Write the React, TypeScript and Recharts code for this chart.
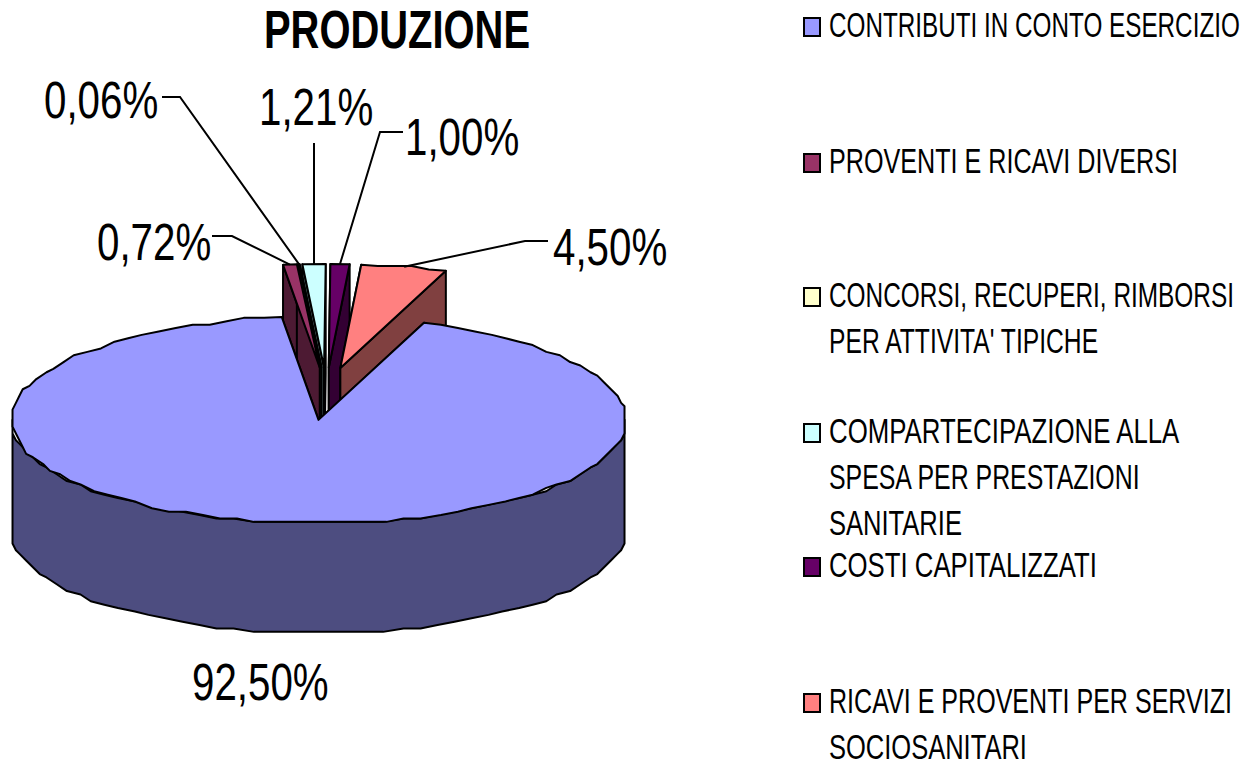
import React from 'react';
import { PieChart, Pie, Legend } from 'recharts';

const TITLE = 'PRODUZIONE';
const categories = [
  'CONTRIBUTI IN CONTO ESERCIZIO',
  'PROVENTI E RICAVI DIVERSI',
  "CONCORSI, RECUPERI, RIMBORSI PER ATTIVITA' TIPICHE",
  'COMPARTECIPAZIONE ALLA SPESA PER PRESTAZIONI SANITARIE',
  'COSTI CAPITALIZZATI',
  'RICAVI E PROVENTI PER SERVIZI SOCIOSANITARI',
];
const values = [92.5, 0.72, 0.06, 1.21, 1.0, 4.5];
const colors = ['#9999FF', '#993366', '#FFFFCC', '#CCFFFF', '#660066', '#FF8080'];
const sideColors = ['#4D4D80', '#4D1A33', '#808066', '#668080', '#330033', '#804040'];

const rows = categories.map((name, i) => ({
  name,
  value: values[i],
  fill: colors[i],
  side: sideColors[i],
  idx: i,
}));

// Painter's order of the slices: the big slice last, it covers the walls of the others.
const paintPasses = [3, 2, 1, 4, 5, 0];

const legendLines = [
  ['CONTRIBUTI IN CONTO ESERCIZIO'],
  ['PROVENTI E RICAVI DIVERSI'],
  ['CONCORSI, RECUPERI, RIMBORSI', "PER ATTIVITA' TIPICHE"],
  ['COMPARTECIPAZIONE ALLA', 'SPESA PER PRESTAZIONI', 'SANITARIE'],
  ['COSTI CAPITALIZZATI'],
  ['RICAVI E PROVENTI PER SERVIZI', 'SOCIOSANITARI'],
];
const legendLineWidths = [
  [411],
  [349],
  [405, 271],
  [352, 312, 133],
  [268],
  [403, 198],
];
const legendBaselines = [37, 173, 307, 443, 577, 713];
const LEGEND_LINE_GAP = 46;

const FONT = '"Liberation Sans", Arial, sans-serif';
const CX = 326.3;
const CY = 393.75;
const RX = 307;
const RY = 103.5;
const DEPTH = 110;
const EXPLODE_X = 0.22;
const EXPLODE_Y = 0.254;
const KY = RY / RX;
const RAD = Math.PI / 180;
const GRID = 3.4;
const ARC_STEP = 3.5;

const labelLayout: Record<number, { x: number; y: number; line?: [number, number][] }> = {
  0: { x: 192, y: 700 },
  1: { x: 97, y: 260, line: [[212, 236], [232, 236]] },
  2: { x: 44, y: 118, line: [[162, 97], [180, 97]] },
  3: { x: 259, y: 125, line: [[314, 143]] },
  4: { x: 405, y: 155, line: [[403, 132], [380, 132]] },
  5: { x: 553, y: 265, line: [[548, 241], [525, 241]] },
};

function offsetFor(cx: number, cy: number, r: number, mid: number) {
  return {
    x: cx + EXPLODE_X * r * Math.cos(mid * RAD),
    y: cy - EXPLODE_Y * r * KY * Math.sin(mid * RAD),
  };
}

// The reference's rims are coarse polygons, so the ellipse is sampled on a grid.
function rimPoints(
  apex: { x: number; y: number },
  r: number,
  from: number,
  to: number,
  dy = 0,
  snapEnds = false,
) {
  const snap = (v: number) => Math.round(v / GRID) * GRID;
  const n = Math.max(1, Math.round(Math.abs(to - from) / ARC_STEP));
  const pts: string[] = [];
  for (let i = 0; i <= n; i++) {
    const a = from + ((to - from) * i) / n;
    const x = r * Math.cos(a * RAD);
    const y = r * KY * Math.sin(a * RAD);
    const exact = !snapEnds && (i === 0 || i === n);
    const px = exact ? apex.x + x : apex.x + snap(x);
    const py = exact ? apex.y - y : apex.y - snap(y);
    pts.push(`${px},${py + dy}`);
  }
  return pts;
}

function makeSlice(only: number) {
  return function Slice3D(props: any) {
    const { cx, cy, outerRadius: r, startAngle, endAngle, fill, payload } = props;
    const idx = payload?.idx ?? props.idx;
    if (idx !== only) return <g />;
    const side = payload?.side ?? props.side;
    const mid = (startAngle + endAngle) / 2;
    const apex = offsetFor(cx, cy, r, mid);
    const at = (deg: number) => ({
      x: apex.x + r * Math.cos(deg * RAD),
      y: apex.y - r * KY * Math.sin(deg * RAD),
    });
    const p1 = at(startAngle);
    const p2 = at(endAngle);
    const wall = (p: { x: number; y: number }) =>
      `M${apex.x},${apex.y}L${p.x},${p.y}L${p.x},${p.y + DEPTH}L${apex.x},${apex.y + DEPTH}Z`;
    const hasFront = endAngle <= -180 && startAngle >= 0;
    const common = { stroke: '#000', strokeWidth: 2, strokeLinejoin: 'round' as const };
    const front = hasFront
      ? [...rimPoints(apex, r, -180, 0, 0, true), ...rimPoints(apex, r, 0, -180, DEPTH, true)]
      : [];
    const top = [`${apex.x},${apex.y}`, ...rimPoints(apex, r, startAngle, endAngle)];
    return (
      <g>
        <path d={wall(p1)} fill={side} {...common} />
        <path d={wall(p2)} fill={side} {...common} />
        {hasFront && <polygon points={front.join(' ')} fill={side} {...common} />}
        <polygon points={top.join(' ')} fill={fill} {...common} />
      </g>
    );
  };
}

const LABEL_SIZE = 52;
const LABEL_SX = 0.775;
const TITLE_SIZE = 53;
const TITLE_SX = 0.753;

function SliceLabel(props: any) {
  const { cx, cy, outerRadius: r, midAngle, payload } = props;
  const layout = labelLayout[payload.idx];
  const text = payload.value.toFixed(2).replace('.', ',') + '%';
  const apex = offsetFor(cx, cy, r, midAngle);
  const rimX = apex.x + r * Math.cos(midAngle * RAD);
  const rimY = apex.y - r * KY * Math.sin(midAngle * RAD);
  return (
    <g>
      {layout.line && (
        <polyline
          points={[...layout.line, [rimX, rimY]].map((p) => p.join(',')).join(' ')}
          fill="none"
          stroke="#000"
          strokeWidth={2}
        />
      )}
      <text
        transform={`translate(${layout.x},${layout.y}) scale(${LABEL_SX},1)`}
        fontFamily={FONT}
        fontSize={LABEL_SIZE}
        fill="#000"
      >
        {text}
      </text>
    </g>
  );
}

const LEGEND_SIZE = 35;

function naturalWidth(line: string) {
  const ctx = document.createElement('canvas').getContext('2d');
  if (!ctx) return line.length * LEGEND_SIZE * 0.65;
  ctx.font = `${LEGEND_SIZE}px ${FONT}`;
  return ctx.measureText(line).width;
}

function LegendBlock() {
  return (
    <svg width={1246} height={761} style={{ position: 'absolute', left: 0, top: 0 }}>
      {legendLines.map((lines, i) => (
        <g key={i}>
          <rect
            x={804}
            y={legendBaselines[i] - 19}
            width={16}
            height={18}
            fill={colors[i]}
            stroke="#000"
            strokeWidth={2}
          />
          {lines.map((line, j) => (
            <text
              key={j}
              transform={`translate(829,${legendBaselines[i] + j * LEGEND_LINE_GAP}) scale(${legendLineWidths[i][j] / naturalWidth(line)},1)`}
              fontFamily={FONT}
              fontSize={LEGEND_SIZE}
              fill="#000"
            >
              {line}
            </text>
          ))}
        </g>
      ))}
    </svg>
  );
}

export default function App() {
  return (
    <div style={{ position: 'absolute', left: 0, top: 0, width: 1246, height: 761, overflow: 'hidden', background: '#fff' }}>
      <PieChart width={1246} height={761} margin={{ top: 0, right: 0, bottom: 0, left: 0 }}>
        <text
          transform={`translate(264,48) scale(${TITLE_SX},1)`}
          fontFamily={FONT}
          fontSize={TITLE_SIZE}
          fontWeight="bold"
          fill="#000"
        >
          {TITLE}
        </text>
        {paintPasses.map((only, k) => {
          const Shape = makeSlice(only);
          return (
            <Pie
              key={only}
              data={rows}
              dataKey="value"
              nameKey="name"
              cx={CX}
              cy={CY}
              innerRadius={0}
              outerRadius={RX}
              startAngle={69.9}
              endAngle={-290.1}
              paddingAngle={0}
              minAngle={0}
              isAnimationActive={false}
              shape={Shape as any}
              inactiveShape={Shape as any}
              label={k === paintPasses.length - 1 ? (SliceLabel as any) : false}
              labelLine={false}
            />
          );
        })}
        <Legend
          content={<LegendBlock />}
          wrapperStyle={{ position: 'absolute', left: 0, top: 0, width: 1246, height: 761 }}
        />
      </PieChart>
    </div>
  );
}
